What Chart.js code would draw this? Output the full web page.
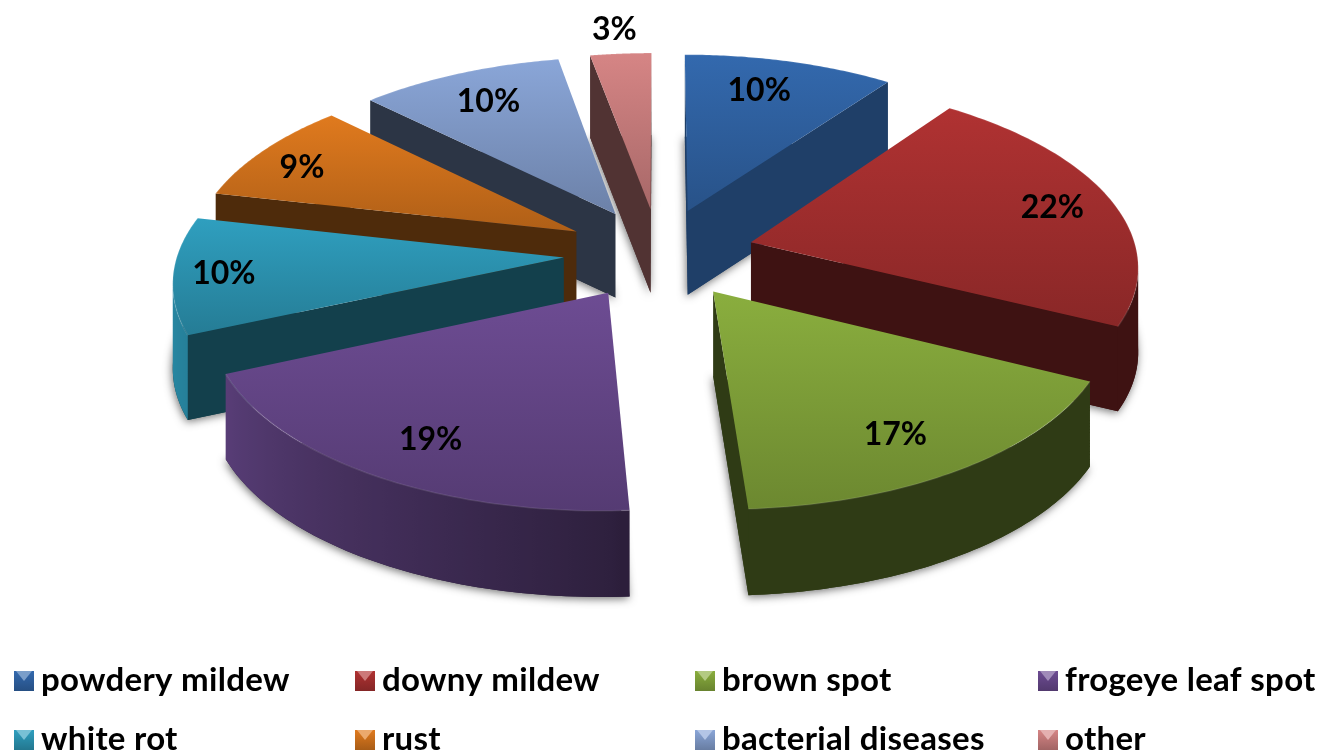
<!DOCTYPE html>
<html>
<head>
<meta charset="utf-8">
<style>
  html, body { margin: 0; padding: 0; background: #fff; }
  canvas { display: block; filter: blur(0.5px); }
</style>
<script src="https://cdn.jsdelivr.net/npm/chart.js@4"></script>
</head>
<body>
<canvas id="pie" width="1321" height="755"></canvas>
<script>
const categories = ["powdery mildew", "downy mildew", "brown spot", "frogeye leaf spot",
  "white rot", "rust", "bacterial diseases", "other"];
// the labels show them rounded
const percentages = [10, 22.3, 16.7, 19.4, 10.1, 8.9, 9.7, 2.9];
const sliceColors = ["#3369ae", "#b03232", "#8aae3e", "#6d4c93", "#2f9fbf", "#e07a1e", "#8aa6d8", "#d68585"];
const wallShades = [0.6, 0.35, 0.34, 0.4, 0.4, 0.35, 0.32, 0.38];
const labelNudges = [[-10, -1], [-3, 1], [-9, 7], [2, 7], [-9, 1], [-15, 3], [-2, 0], [-2, -1]];

// tilted view of the pie plane
const view = { x: 659, y: 253, radius: 386, tilt: 0.475, focal: 1600, depth: 84 };
const legendCols = [14, 355, 695, 1038];
const legendRows = [680, 739];

function shade(hex, f) {
  const n = parseInt(hex.slice(1), 16);
  const c = [n >> 16, (n >> 8) & 255, n & 255].map((v) => Math.round(v * f));
  return `rgb(${c[0]},${c[1]},${c[2]})`;
}

function lighten(hex, f) {
  const n = parseInt(hex.slice(1), 16);
  const c = [n >> 16, (n >> 8) & 255, n & 255].map((v) => Math.round(v + (255 - v) * f));
  return `rgb(${c[0]},${c[1]},${c[2]})`;
}

function sliceGeometry(arc) {
  const p = arc.getProps(["startAngle", "endAngle", "outerRadius"], true);
  const k = view.radius / p.outerRadius;
  const mid = (p.startAngle + p.endAngle) / 2;
  const off = (arc.options.offset || 0) * k;
  const ox = Math.cos(mid) * off;
  const oy = Math.sin(mid) * off;
  // a point on the tilted plane, r as a share of the radius
  const at = (angle, r) => {
    const u = ox + Math.cos(angle) * r * view.radius;
    const v = (oy + Math.sin(angle) * r * view.radius) * view.tilt;
    const s = 1 / (1 - v / view.focal);
    return { x: view.x + u * s, y: view.y + v * s, h: view.depth * Math.pow(s, 0.17) };
  };
  const rim = [];
  const steps = 60;
  for (let i = 0; i <= steps; i++) {
    const a = p.startAngle + ((p.endAngle - p.startAngle) * i) / steps;
    rim.push({ p: at(a, 1), angle: a });
  }
  return { at, rim, tip: at(0, 0), mid, start: p.startAngle, end: p.endAngle };
}

function tracePolygon(ctx, pts, floor) {
  ctx.beginPath();
  pts.forEach((pt, i) => {
    const y = pt.y + (floor ? pt.h : 0);
    if (i) ctx.lineTo(pt.x, y);
    else ctx.moveTo(pt.x, y);
  });
  ctx.closePath();
}

function wallQuad(ctx, a, b, color) {
  ctx.beginPath();
  ctx.moveTo(a.x, a.y);
  ctx.lineTo(b.x, b.y);
  ctx.lineTo(b.x, b.y + b.h);
  ctx.lineTo(a.x, a.y + a.h);
  ctx.closePath();
  ctx.fillStyle = color;
  ctx.fill();
}

// shade of the curved wall, the left side of the pie catches the light
function rimShade(angle, base) {
  const deg = ((angle * 180) / Math.PI + 90 + 360) % 360;
  if (deg <= 178) return base;
  if (deg <= 245) return 0.42 + ((deg - 178) / 67) * 0.38;
  return 0.8 + (Math.min(deg, 275) - 245) / 300;
}

function drawCurvedWall(ctx, g, index) {
  const color = sliceColors[index];
  const front = [];
  for (let i = 0; i < g.rim.length - 1; i++) {
    if (g.rim[i + 1].p.x < g.rim[i].p.x) {
      if (!front.length) front.push(g.rim[i]);
      front.push(g.rim[i + 1]);
    }
  }
  if (front.length < 2) return;
  const pts = front.map((r) => r.p);
  const left = pts[pts.length - 1].x;
  const right = pts[0].x;
  const grad = ctx.createLinearGradient(left, 0, right, 0);
  front.forEach((r) => {
    const stop = Math.min(1, Math.max(0, (r.p.x - left) / (right - left)));
    grad.addColorStop(stop, shade(color, rimShade(r.angle, wallShades[index])));
  });
  ctx.beginPath();
  pts.forEach((pt, i) => (i ? ctx.lineTo(pt.x, pt.y) : ctx.moveTo(pt.x, pt.y)));
  pts.slice().reverse().forEach((pt) => ctx.lineTo(pt.x, pt.y + pt.h));
  ctx.closePath();
  ctx.fillStyle = grad;
  ctx.fill();
}

function drawSlice(ctx, g, index) {
  const color = sliceColors[index];
  const outline = [g.tip].concat(g.rim.map((r) => r.p));

  // soft shadow under the floor of the slice
  ctx.save();
  ctx.shadowColor = "rgba(0,0,0,0.55)";
  ctx.shadowBlur = 9;
  ctx.shadowOffsetX = -1;
  ctx.shadowOffsetY = 2;
  tracePolygon(ctx, outline, true);
  ctx.fillStyle = shade(color, wallShades[index]);
  ctx.fill();
  ctx.restore();

  // only edges running right to left face the viewer
  const first = g.rim[0].p;
  const last = g.rim[g.rim.length - 1].p;
  if (first.x < g.tip.x - 0.5) wallQuad(ctx, g.tip, first, shade(color, wallShades[index]));
  drawCurvedWall(ctx, g, index);
  if (g.tip.x < last.x - 0.5) wallQuad(ctx, last, g.tip, shade(color, wallShades[index]));

  // top face
  const ys = outline.map((pt) => pt.y);
  const grad = ctx.createLinearGradient(0, Math.min(...ys), 0, Math.max(...ys));
  grad.addColorStop(0, color);
  grad.addColorStop(1, shade(color, 0.78));
  tracePolygon(ctx, outline, false);
  ctx.fillStyle = grad;
  ctx.fill();

  // small bevel along the rim
  ctx.beginPath();
  g.rim.forEach((r, i) => (i ? ctx.lineTo(r.p.x, r.p.y) : ctx.moveTo(r.p.x, r.p.y)));
  ctx.strokeStyle = "rgba(255,255,255,0.1)";
  ctx.lineWidth = 1.5;
  ctx.stroke();
}

function drawLabel(ctx, g, index) {
  const sin = Math.cos(g.mid);
  const share = percentages[index] < 5 ? 1.165 : 0.78 + 0.07 * Math.pow(sin, 4);
  const pos = g.at(g.mid, share);
  ctx.fillStyle = "#000";
  ctx.font = "bold 32px Lato";
  ctx.textAlign = "center";
  ctx.textBaseline = "middle";
  ctx.fillText(Math.round(percentages[index]) + "%", pos.x + labelNudges[index][0], pos.y + labelNudges[index][1]);
}

function drawLegend(ctx) {
  ctx.letterSpacing = "0.3px";
  categories.forEach((name, i) => {
    const x = legendCols[i % 4];
    const y = legendRows[Math.floor(i / 4)];
    const color = sliceColors[i];
    const grad = ctx.createLinearGradient(0, y - 9, 0, y + 11);
    grad.addColorStop(0, color);
    grad.addColorStop(1, shade(color, 0.75));
    ctx.fillStyle = grad;
    ctx.fillRect(x, y - 9, 20, 20);
    ctx.beginPath();
    ctx.moveTo(x + 2, y - 9);
    ctx.lineTo(x + 18, y - 9);
    ctx.lineTo(x + 10, y + 1);
    ctx.closePath();
    ctx.fillStyle = lighten(color, 0.35);
    ctx.fill();
    ctx.fillStyle = "#000";
    ctx.font = "bold 33px Lato";
    ctx.textAlign = "left";
    ctx.textBaseline = "middle";
    ctx.fillText(name, x + 27, y);
  });
  ctx.letterSpacing = "0px";
}

const tiltedPie = {
  id: "tiltedPie",
  beforeDatasetsDraw(chart) {
    const ctx = chart.ctx;
    const arcs = chart.getDatasetMeta(0).data;
    const slices = arcs.map((arc, i) => ({ i, g: sliceGeometry(arc) }));
    ctx.save();
    slices.slice().sort((a, b) => a.g.tip.y - b.g.tip.y).forEach((s) => drawSlice(ctx, s.g, s.i));
    slices.forEach((s) => drawLabel(ctx, s.g, s.i));
    drawLegend(ctx);
    ctx.restore();
    return false; // the flat arcs are replaced by the tilted ones
  },
};

new Chart(document.getElementById("pie"), {
  type: "pie",
  data: {
    labels: categories,
    datasets: [{ data: percentages, backgroundColor: sliceColors, borderWidth: 0, offset: 83 }],
  },
  options: {
    responsive: false,
    animation: false,
    plugins: { legend: { display: false }, tooltip: { enabled: false } },
  },
  plugins: [tiltedPie],
});
</script>
</body>
</html>
